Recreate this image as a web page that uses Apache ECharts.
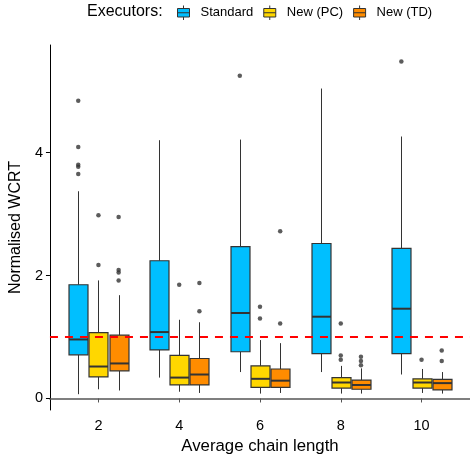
<!DOCTYPE html>
<html>
<head>
<meta charset="utf-8">
<script src="https://cdn.jsdelivr.net/npm/echarts@6/dist/echarts.min.js"></script>
<style>
  html, body { margin: 0; padding: 0; background: #fff; }
  #chart { width: 470px; height: 460px; }
</style>
</head>
<body>
<div id="chart"></div>
<script>
// ---- Data ----
const CATEGORIES = ['2', '4', '6', '8', '10'];
const SERIES_NAMES = ['Standard', 'New (PC)', 'New (TD)'];

// box stats per category: [lower whisker, Q1, median, Q3, upper whisker]
const STANDARD_BOXES = [
  [0.07, 0.71, 0.96, 1.85, 3.37],
  [0.34, 0.79, 1.08, 2.24, 4.20],
  [0.43, 0.76, 1.39, 2.47, 4.21],
  [0.43, 0.73, 1.33, 2.52, 5.04],
  [0.39, 0.73, 1.46, 2.44, 4.26]
];
const PC_BOXES = [
  [0.15, 0.35, 0.52, 1.07, 1.92],
  [0.11, 0.22, 0.34, 0.70, 1.28],
  [0.08, 0.18, 0.32, 0.53, 0.95],
  [0.08, 0.17, 0.26, 0.34, 0.53],
  [0.09, 0.17, 0.26, 0.32, 0.48]
];
const TD_BOXES = [
  [0.13, 0.45, 0.57, 1.03, 1.68],
  [0.09, 0.22, 0.39, 0.65, 1.24],
  [0.09, 0.18, 0.29, 0.48, 0.90],
  [0.08, 0.15, 0.22, 0.30, 0.49],
  [0.08, 0.14, 0.25, 0.31, 0.43]
];

// outliers per category
const STANDARD_OUTLIERS = [[4.84, 4.09, 3.80, 3.77, 3.65], [], [5.25], [], [5.48]];
const PC_OUTLIERS = [[2.98, 2.17], [1.85], [1.49, 1.30], [1.22, 0.70, 0.63], [0.63]];
const TD_OUTLIERS = [[2.95, 2.09, 2.05, 1.92], [1.88, 1.42], [2.72, 1.22], [0.68, 0.61, 0.54], [0.78, 0.61]];

const Y_TICKS = [0, 2, 4];
const REF_LINE = 1;

// ---- Styling / layout constants ----
const COLORS = ['#00BFFF', '#FFD700', '#FF8C00'];
const DODGE = [-0.25, 0, 0.25];
const BOX_W = 0.235;
const FONT = 'Liberation Sans, Arial, Helvetica, sans-serif';
const LEGEND_ICON = 'path://M0,3L12,3L12,11.5L0,11.5Z M6,0L6,3 M6,11.5L6,14.5 M0,7.25L12,7.25';

const ALL_BOXES = [STANDARD_BOXES, PC_BOXES, TD_BOXES];
const ALL_OUTLIERS = [STANDARD_OUTLIERS, PC_OUTLIERS, TD_OUTLIERS];

function renderBox(params, api) {
  const x = api.value(0);
  const lo = api.coord([x, api.value(1)]);
  const q1 = api.coord([x, api.value(2)]);
  const md = api.coord([x, api.value(3)]);
  const q3 = api.coord([x, api.value(4)]);
  const hi = api.coord([x, api.value(5)]);
  const half = api.size([BOX_W, 0])[0] / 2;
  const color = api.visual('color');
  const cx = Math.round(lo[0]) + 0.5;
  return {
    type: 'group',
    children: [
      { type: 'line', shape: { x1: cx, y1: lo[1], x2: cx, y2: q1[1] }, style: { stroke: '#333', lineWidth: 1 } },
      { type: 'line', shape: { x1: cx, y1: q3[1], x2: cx, y2: hi[1] }, style: { stroke: '#333', lineWidth: 1 } },
      { type: 'rect', shape: { x: cx - half, y: q3[1], width: half * 2, height: q1[1] - q3[1] },
        style: { fill: color, stroke: '#333', lineWidth: 1.2 } },
      { type: 'line', shape: { x1: cx - half, y1: md[1], x2: cx + half, y2: md[1] }, style: { stroke: '#333', lineWidth: 2 } }
    ]
  };
}

const series = [];
ALL_BOXES.forEach((boxes, s) => {
  series.push({
    name: SERIES_NAMES[s],
    type: 'custom',
    renderItem: renderBox,
    itemStyle: { color: COLORS[s], borderColor: '#333', borderWidth: 1 },
    encode: { x: 0, y: [1, 2, 3, 4, 5] },
    data: boxes.map((b, i) => [i + 1 + DODGE[s]].concat(b)),
    z: 2
  });
});
ALL_OUTLIERS.forEach((outs, s) => {
  const pts = [];
  outs.forEach((arr, i) => arr.forEach(v => pts.push([i + 1 + DODGE[s], v])));
  series.push({
    name: SERIES_NAMES[s] + ' outliers',
    type: 'scatter',
    symbolSize: 4.5,
    itemStyle: { color: '#333' },
    data: pts,
    z: 3,
    silent: true
  });
});
// reference line
series[series.length - 1].markLine = {
  silent: true,
  symbol: ['none', 'none'],
  label: { show: false },
  lineStyle: { color: '#FF0000', width: 2, type: [8, 7] },
  data: [{ yAxis: REF_LINE }],
  z: 10
};

const chart = echarts.init(document.getElementById('chart'), null, { renderer: 'canvas' });
chart.setOption({
  animation: false,
  backgroundColor: '#fff',
  textStyle: { fontFamily: FONT },
  title: {
    text: 'Executors:',
    left: 87, top: 4, padding: 0,
    textStyle: { fontSize: 16, fontWeight: 'normal', color: '#000', fontFamily: FONT }
  },
  legend: {
    data: SERIES_NAMES,
    left: 177, top: 5, padding: 0,
    itemWidth: 12, itemHeight: 14.5, itemGap: 10,
    icon: LEGEND_ICON,
    itemStyle: { borderColor: '#333', borderWidth: 1 },
    textStyle: { fontSize: 13, color: '#000', fontFamily: FONT, padding: [0, 0, 0, 6] }
  },
  grid: { left: 49, right: 0, top: 45, bottom: 50, containLabel: false },
  xAxis: {
    type: 'value',
    min: 0.4, max: 5.6,
    name: 'Average chain length',
    nameLocation: 'middle',
    nameGap: 26,
    nameTextStyle: { fontSize: 16.8, color: '#000', fontFamily: FONT },
    axisLine: { show: true, lineStyle: { color: '#555', width: 1.5 } },
    axisTick: { show: true, length: 4, customValues: [1, 2, 3, 4, 5], lineStyle: { color: '#555' } },
    axisLabel: {
      customValues: [1, 2, 3, 4, 5],
      formatter: v => CATEGORIES[Math.round(v) - 1],
      fontSize: 14.5, color: '#000', margin: 8, fontFamily: FONT
    },
    splitLine: { show: false }
  },
  yAxis: {
    type: 'value',
    min: -0.187, max: 5.748,
    name: 'Normalised WCRT',
    nameLocation: 'middle',
    nameGap: 21,
    nameTextStyle: { fontSize: 16, color: '#000', fontFamily: FONT },
    axisLine: { show: true, lineStyle: { color: '#000', width: 1 } },
    axisTick: { show: true, length: 4, customValues: Y_TICKS, lineStyle: { color: '#000' } },
    axisLabel: { customValues: Y_TICKS, fontSize: 14.5, color: '#000', margin: 7, fontFamily: FONT },
    splitLine: { show: false }
  },
  series: series
});
</script>
</body>
</html>
